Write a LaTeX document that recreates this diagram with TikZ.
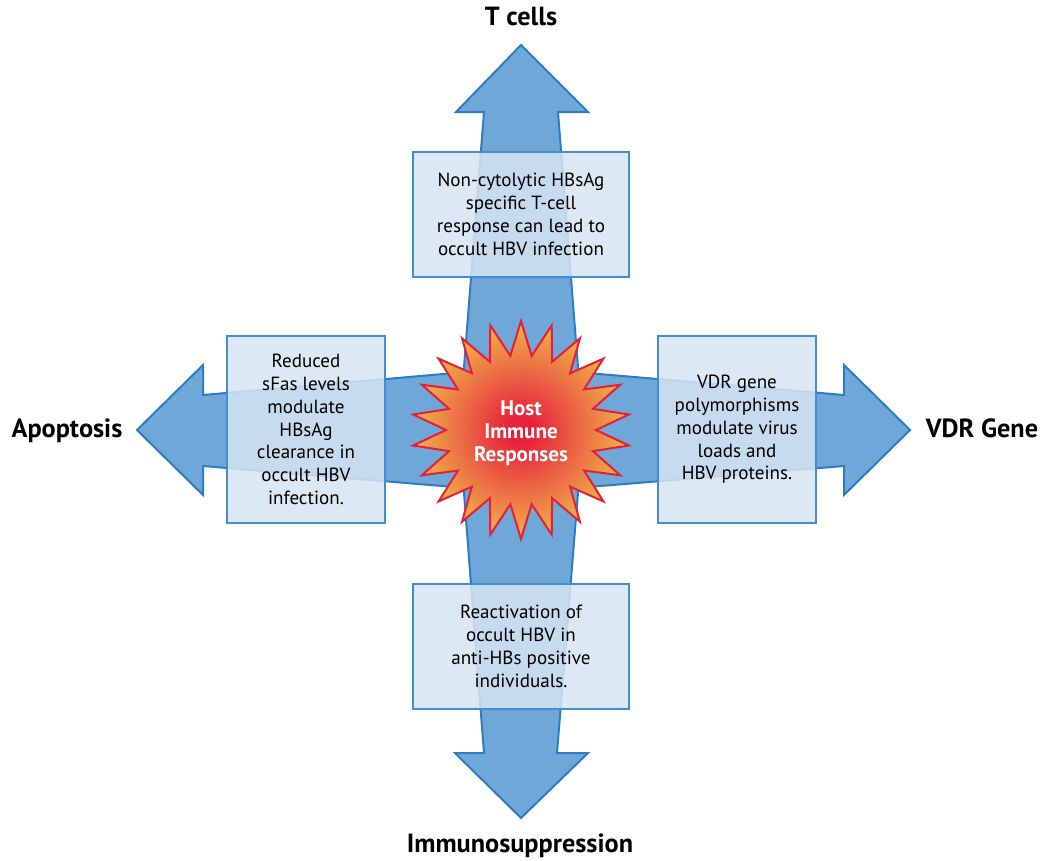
\documentclass[tikz,border=0pt]{standalone}
\usepackage{fontspec}
\setmainfont{PT Sans}

\definecolor{arrowfill}{RGB}{111,168,216}
\definecolor{arrowline}{RGB}{44,125,196}
\definecolor{boxfill}{RGB}{214,228,242}
\definecolor{boxline}{RGB}{66,142,210}
\definecolor{burstred}{RGB}{230,35,60}
\definecolor{burstorange}{RGB}{240,180,75}
\definecolor{burstline}{RGB}{232,30,55}

\pgfdeclareradialshading{burstshade}{\pgfpoint{0bp}{0bp}}{color(0bp)=(burstred); color(3bp)=(burstred); color(25bp)=(burstorange); color(50bp)=(burstorange)}

\begin{document}
\begin{tikzpicture}[x=0.75pt,y=0.75pt,yscale=-1,
  infobox/.style={draw=boxline, line width=1.5pt, fill=boxfill, fill opacity=0.86, text opacity=1,
    align=center, inner sep=0pt, font=\fontsize{14.3}{17.1}\selectfont},
  sidelabel/.style={inner sep=0pt, font=\fontsize{19.7}{22}\selectfont\bfseries},
  bursttext/.style={inner sep=0pt, align=center, text=white, font=\fontsize{15.8}{17.3}\selectfont\bfseries}]
\path[use as bounding box] (0,0) rectangle (1040,861);

%Shape: Cross arrows
\draw [fill=arrowfill, draw=arrowline, line width=1.5pt, line join=miter]
  (521,45) -- (588,112) -- (558,112) -- (578.4,372.2) -- (844,395) -- (844,365) -- (910,430)
  -- (844,495) -- (844,466) -- (578.4,487.8) -- (557,753) -- (588,753) -- (521,818)
  -- (455,753) -- (484,753) -- (463.6,487.8) -- (203,466) -- (203,495) -- (137,430)
  -- (203,365) -- (203,395) -- (463.6,372.2) -- (484,112) -- (456,112) -- cycle ;

%Shape: Rectangle
\node (tbox) [infobox, minimum width=162pt, minimum height=93.75pt] at (521,214.5)
  {Non-cytolytic HBsAg\\specific T-cell\\response can lead to\\occult HBV infection};
%Shape: Rectangle
\node (abox) [infobox, minimum width=118.5pt, minimum height=140.25pt] at (306,429.5)
  {Reduced\\sFas levels\\modulate\\HBsAg\\clearance in\\occult HBV\\infection.};
%Shape: Rectangle
\node (vbox) [infobox, minimum width=118.5pt, minimum height=140.25pt] at (737,429.5)
  {VDR gene\\polymorphisms\\modulate virus\\loads and\\HBV proteins.};
%Shape: Rectangle
\node (ibox) [infobox, minimum width=162pt, minimum height=93.75pt] at (521,646.5)
  {Reactivation of\\occult HBV in\\anti-HBs positive\\individuals.};

%Shape: Star
\shadedraw [shading=burstshade, draw=burstline, line width=1.5pt, line join=miter, shift={(521,430)}]
  (90:109) \foreach \i [evaluate=\i as \r using {mod(\i,2)==0 ? 109 : 75}] in {1,...,43} { -- ({90+\i*360/44}:\r) } -- cycle ;

% Text Node
\node (hub) [bursttext] at (521,433) {Host\\Immune\\Responses};

% Text Node
\node (tcells) [sidelabel, anchor=base] at (521,25) {T cells};
% Text Node
\node (apoptosis) [sidelabel, anchor=base] at (67,437) {Apoptosis};
% Text Node
\node (vdrgene) [sidelabel, anchor=base] at (982,437) {VDR Gene};
% Text Node
\node (immuno) [sidelabel, anchor=base] at (520,852) {Immunosuppression};

\end{tikzpicture}
\end{document}
